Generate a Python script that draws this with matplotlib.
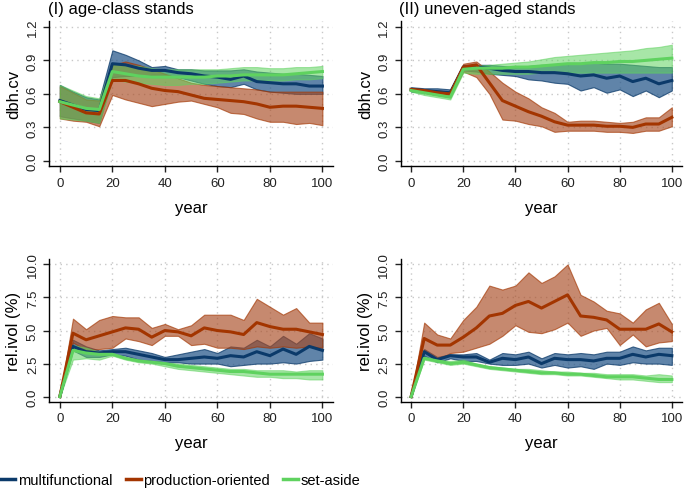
import numpy as np
import matplotlib
matplotlib.use("Agg")
import matplotlib.pyplot as plt

plt.rcParams['font.family'] = ['Liberation Sans', 'DejaVu Sans']

year = np.arange(0, 101, 5)

# ---- (I) age-class stands, dbh.cv ----
ac_dbh_multi = [0.54, 0.50, 0.46, 0.45, 0.87, 0.86, 0.83, 0.81, 0.81, 0.79, 0.78,
                0.76, 0.75, 0.73, 0.76, 0.71, 0.70, 0.69, 0.69, 0.67, 0.67]
ac_dbh_multi_hi = [0.68, 0.62, 0.57, 0.55, 0.99, 0.95, 0.90, 0.84, 0.85, 0.82, 0.82,
                   0.81, 0.81, 0.81, 0.82, 0.80, 0.79, 0.78, 0.78, 0.77, 0.76]
ac_dbh_multi_lo = [0.40, 0.38, 0.36, 0.34, 0.75, 0.76, 0.76, 0.77, 0.77, 0.75, 0.72,
                   0.69, 0.67, 0.66, 0.69, 0.64, 0.62, 0.61, 0.60, 0.60, 0.60]
ac_dbh_prod = [0.53, 0.48, 0.43, 0.42, 0.72, 0.72, 0.69, 0.65, 0.63, 0.62, 0.59,
               0.56, 0.55, 0.54, 0.53, 0.51, 0.48, 0.49, 0.49, 0.48, 0.47]
ac_dbh_prod_hi = [0.67, 0.61, 0.55, 0.54, 0.86, 0.89, 0.86, 0.82, 0.78, 0.74, 0.70,
                  0.68, 0.67, 0.66, 0.65, 0.64, 0.62, 0.62, 0.62, 0.62, 0.62]
ac_dbh_prod_lo = [0.38, 0.36, 0.35, 0.31, 0.59, 0.55, 0.52, 0.49, 0.51, 0.53, 0.54,
                  0.51, 0.48, 0.43, 0.42, 0.38, 0.35, 0.35, 0.33, 0.34, 0.32]
ac_dbh_set = [0.53, 0.50, 0.47, 0.46, 0.80, 0.78, 0.76, 0.75, 0.75, 0.75, 0.75,
              0.75, 0.76, 0.76, 0.77, 0.77, 0.77, 0.77, 0.78, 0.79, 0.80]
ac_dbh_set_hi = [0.68, 0.63, 0.58, 0.56, 0.87, 0.86, 0.85, 0.83, 0.82, 0.82, 0.82,
                 0.82, 0.82, 0.83, 0.84, 0.84, 0.83, 0.83, 0.84, 0.84, 0.85]
ac_dbh_set_lo = [0.38, 0.37, 0.36, 0.34, 0.73, 0.71, 0.70, 0.69, 0.68, 0.68, 0.69,
                 0.69, 0.70, 0.71, 0.72, 0.72, 0.72, 0.72, 0.73, 0.73, 0.74]

# ---- (II) uneven-aged stands, dbh.cv ----
ue_dbh_multi = [0.64, 0.63, 0.62, 0.61, 0.84, 0.84, 0.83, 0.81, 0.80, 0.80, 0.79,
                0.79, 0.78, 0.76, 0.77, 0.74, 0.76, 0.71, 0.74, 0.69, 0.72]
ue_dbh_multi_hi = [0.66, 0.65, 0.65, 0.64, 0.86, 0.86, 0.86, 0.85, 0.84, 0.85, 0.86,
                   0.86, 0.87, 0.87, 0.88, 0.87, 0.87, 0.86, 0.85, 0.84, 0.84]
ue_dbh_multi_lo = [0.62, 0.61, 0.59, 0.58, 0.81, 0.80, 0.78, 0.77, 0.76, 0.73, 0.72,
                   0.70, 0.69, 0.63, 0.66, 0.61, 0.64, 0.58, 0.63, 0.57, 0.63]
ue_dbh_prod = [0.64, 0.63, 0.61, 0.60, 0.84, 0.86, 0.70, 0.54, 0.49, 0.44, 0.40,
               0.35, 0.32, 0.32, 0.32, 0.31, 0.31, 0.30, 0.33, 0.33, 0.39]
ue_dbh_prod_hi = [0.65, 0.64, 0.63, 0.62, 0.87, 0.89, 0.80, 0.70, 0.62, 0.56, 0.48,
                  0.43, 0.35, 0.36, 0.36, 0.35, 0.34, 0.35, 0.39, 0.39, 0.48]
ue_dbh_prod_lo = [0.63, 0.61, 0.59, 0.57, 0.80, 0.75, 0.60, 0.37, 0.36, 0.33, 0.31,
                  0.26, 0.27, 0.27, 0.27, 0.26, 0.26, 0.25, 0.27, 0.27, 0.31]
ue_dbh_set = [0.63, 0.61, 0.59, 0.57, 0.82, 0.83, 0.83, 0.83, 0.84, 0.84, 0.85,
              0.86, 0.87, 0.87, 0.88, 0.88, 0.89, 0.89, 0.90, 0.91, 0.92]
ue_dbh_set_hi = [0.64, 0.62, 0.60, 0.59, 0.85, 0.85, 0.86, 0.87, 0.88, 0.89, 0.91,
                 0.93, 0.94, 0.95, 0.96, 0.97, 0.98, 0.99, 1.01, 1.02, 1.04]
ue_dbh_set_lo = [0.62, 0.59, 0.57, 0.55, 0.79, 0.78, 0.78, 0.78, 0.78, 0.78, 0.79,
                 0.79, 0.79, 0.79, 0.79, 0.79, 0.79, 0.79, 0.79, 0.79, 0.79]

# ---- (I) age-class stands, rel.ivol ----
ac_ivol_multi = [0.0, 3.8, 3.4, 3.3, 3.4, 3.4, 3.2, 3.0, 2.8, 2.8, 2.9,
                 3.0, 2.9, 3.1, 3.0, 3.4, 3.1, 3.6, 3.2, 3.8, 3.5]
ac_ivol_multi_hi = [0.0, 4.3, 3.8, 3.5, 3.6, 3.7, 3.5, 3.3, 3.0, 3.2, 3.4,
                    3.6, 3.3, 3.8, 3.7, 4.3, 3.8, 4.6, 4.0, 4.8, 4.4]
ac_ivol_multi_lo = [0.0, 3.5, 3.0, 3.0, 3.2, 3.1, 2.8, 2.7, 2.6, 2.6, 2.5,
                    2.5, 2.5, 2.3, 2.4, 2.5, 2.5, 2.6, 2.5, 2.7, 2.8]
ac_ivol_prod = [0.0, 4.8, 4.3, 4.6, 4.9, 5.2, 5.1, 4.5, 5.0, 4.9, 4.6,
                5.2, 5.0, 4.9, 4.7, 5.6, 5.3, 5.1, 5.1, 4.9, 4.7]
ac_ivol_prod_hi = [0.0, 5.9, 5.1, 5.8, 6.1, 6.0, 6.0, 5.2, 5.5, 5.1, 5.4,
                   6.2, 6.2, 6.2, 5.8, 7.4, 6.8, 6.2, 6.7, 5.6, 5.6]
ac_ivol_prod_lo = [0.0, 4.1, 3.5, 3.6, 3.7, 4.4, 4.2, 3.9, 4.6, 4.6, 3.9,
                   4.0, 3.7, 3.7, 3.6, 3.8, 3.7, 3.8, 3.7, 3.8, 3.7]
ac_ivol_set = [0.0, 3.5, 3.3, 3.2, 3.2, 2.9, 2.7, 2.6, 2.5, 2.3, 2.2,
               2.1, 2.0, 1.9, 1.9, 1.8, 1.7, 1.7, 1.7, 1.7, 1.7]
ac_ivol_set_hi = [0.0, 3.9, 3.7, 3.4, 3.3, 3.0, 2.8, 2.7, 2.6, 2.5, 2.4,
                  2.3, 2.2, 2.1, 2.1, 2.0, 2.0, 2.0, 1.9, 2.0, 2.0]
ac_ivol_set_lo = [0.0, 2.8, 2.9, 2.8, 3.1, 2.8, 2.6, 2.5, 2.3, 2.1, 2.0,
                  1.9, 1.8, 1.7, 1.6, 1.5, 1.5, 1.4, 1.4, 1.3, 1.3]

# ---- (II) uneven-aged stands, rel.ivol ----
ue_ivol_multi = [0.0, 3.4, 2.8, 3.1, 3.0, 3.0, 2.6, 2.9, 2.8, 3.0, 2.5,
                 2.9, 2.8, 2.8, 2.7, 2.9, 2.9, 3.2, 3.0, 3.2, 3.1]
ue_ivol_multi_hi = [0.0, 3.6, 3.0, 3.2, 3.2, 3.3, 2.8, 3.3, 3.2, 3.4, 2.9,
                    3.3, 3.2, 3.3, 3.2, 3.4, 3.4, 3.8, 3.5, 3.7, 3.7]
ue_ivol_multi_lo = [0.0, 3.1, 2.6, 2.9, 2.7, 2.7, 2.5, 2.4, 2.4, 2.5, 2.2,
                    2.4, 2.2, 2.3, 2.1, 2.5, 2.4, 2.6, 2.5, 2.5, 2.4]
ue_ivol_prod = [0.0, 4.4, 3.9, 3.9, 4.5, 5.2, 6.1, 6.3, 6.9, 7.2, 6.7,
                7.2, 7.7, 6.1, 6.0, 5.8, 5.1, 5.1, 5.1, 5.5, 4.9]
ue_ivol_prod_hi = [0.0, 5.6, 4.7, 4.4, 5.8, 6.8, 8.4, 8.1, 8.4, 9.4, 8.6,
                   9.1, 10.0, 7.7, 7.2, 6.5, 6.3, 5.6, 6.6, 7.1, 5.5]
ue_ivol_prod_lo = [0.0, 3.4, 2.8, 3.3, 3.4, 3.7, 4.0, 4.6, 5.4, 4.9, 4.8,
                   5.1, 5.6, 4.6, 5.0, 5.2, 3.9, 4.7, 3.8, 4.1, 4.2]
ue_ivol_set = [0.0, 2.9, 2.7, 2.5, 2.6, 2.4, 2.2, 2.1, 2.0, 1.9, 1.8,
               1.8, 1.7, 1.7, 1.6, 1.5, 1.5, 1.5, 1.4, 1.3, 1.3]
ue_ivol_set_hi = [0.0, 3.0, 2.8, 2.7, 2.8, 2.5, 2.3, 2.2, 2.1, 2.1, 2.0,
                  1.9, 1.9, 1.8, 1.8, 1.7, 1.7, 1.7, 1.6, 1.7, 1.6]
ue_ivol_set_lo = [0.0, 2.8, 2.6, 2.4, 2.5, 2.3, 2.1, 2.0, 1.9, 1.8, 1.7,
                  1.7, 1.6, 1.6, 1.5, 1.4, 1.3, 1.3, 1.2, 1.1, 1.1]

labels = ["multifunctional", "production-oriented", "set-aside"]
line_cols = ["#0b3a6a", "#a33500", "#5fd25f"]
fill_cols = ["#2b5b8c", "#a84a22", "#5fd25f"]
fill_alpha = [0.75, 0.65, 0.55]

panels = [
    dict(pos=[0.072, 0.658, 0.414, 0.296], title="(I) age-class stands", ylab="dbh.cv",
         yt=[0.0, 0.3, 0.6, 0.9, 1.2], ytl=["0.0", "0.3", "0.6", "0.9", "1.2"], ylim=(-0.048, 1.248),
         data=[(ac_dbh_multi, ac_dbh_multi_lo, ac_dbh_multi_hi),
               (ac_dbh_prod, ac_dbh_prod_lo, ac_dbh_prod_hi),
               (ac_dbh_set, ac_dbh_set_lo, ac_dbh_set_hi)]),
    dict(pos=[0.585, 0.658, 0.411, 0.296], title="(II) uneven-aged stands", ylab="dbh.cv",
         yt=[0.0, 0.3, 0.6, 0.9, 1.2], ytl=["0.0", "0.3", "0.6", "0.9", "1.2"], ylim=(-0.048, 1.248),
         data=[(ue_dbh_multi, ue_dbh_multi_lo, ue_dbh_multi_hi),
               (ue_dbh_prod, ue_dbh_prod_lo, ue_dbh_prod_hi),
               (ue_dbh_set, ue_dbh_set_lo, ue_dbh_set_hi)]),
    dict(pos=[0.072, 0.176, 0.414, 0.292], title=None, ylab="rel.ivol (%)",
         yt=[0, 2.5, 5, 7.5, 10], ytl=["0.0", "2.5", "5.0", "7.5", "10.0"], ylim=(-0.4, 10.4),
         data=[(ac_ivol_multi, ac_ivol_multi_lo, ac_ivol_multi_hi),
               (ac_ivol_prod, ac_ivol_prod_lo, ac_ivol_prod_hi),
               (ac_ivol_set, ac_ivol_set_lo, ac_ivol_set_hi)]),
    dict(pos=[0.585, 0.176, 0.411, 0.292], title=None, ylab="rel.ivol (%)",
         yt=[0, 2.5, 5, 7.5, 10], ytl=["0.0", "2.5", "5.0", "7.5", "10.0"], ylim=(-0.4, 10.4),
         data=[(ue_ivol_multi, ue_ivol_multi_lo, ue_ivol_multi_hi),
               (ue_ivol_prod, ue_ivol_prod_lo, ue_ivol_prod_hi),
               (ue_ivol_set, ue_ivol_set_lo, ue_ivol_set_hi)]),
]

fig = plt.figure(figsize=(6.85, 4.89), dpi=100)

for p in panels:
    ax = fig.add_axes(p["pos"])
    for (m, lo, hi), lc, fc, fa in zip(p["data"], line_cols, fill_cols, fill_alpha):
        ax.fill_between(year, lo, hi, color=fc, alpha=fa, lw=0.8, edgecolor=lc)
        ax.plot(year, m, color=lc, lw=2.2)
    ax.set_xlim(-4, 104)
    ax.set_ylim(*p["ylim"])
    ax.set_xticks([0, 20, 40, 60, 80, 100])
    ax.set_yticks(p["yt"])
    ax.set_yticklabels(p["ytl"], rotation=90, va="center")
    ax.tick_params(labelsize=9.5, length=4, width=1, colors="#222222")
    ax.grid(True, color="#c8c8c8", ls=(0, (1, 3)), lw=1)
    ax.set_axisbelow(True)
    for s in ["top", "right"]:
        ax.spines[s].set_visible(False)
    ax.spines["left"].set_linewidth(1)
    ax.spines["bottom"].set_linewidth(1)
    ax.set_xlabel("year", fontsize=12, labelpad=8)
    ax.set_ylabel(p["ylab"], fontsize=12, labelpad=4)
    if p["title"]:
        ax.set_title(p["title"], fontsize=12, loc="left", x=-0.005, pad=6)

handles = [plt.Line2D([], [], color=c, lw=2.5) for c in line_cols]
fig.legend(handles, labels, loc="lower left", bbox_to_anchor=(-0.018, -0.025), ncol=3,
           frameon=False, fontsize=10.5, handlelength=1.0, handletextpad=0.2, columnspacing=0.9)

fig.savefig("out.png", dpi=100)
